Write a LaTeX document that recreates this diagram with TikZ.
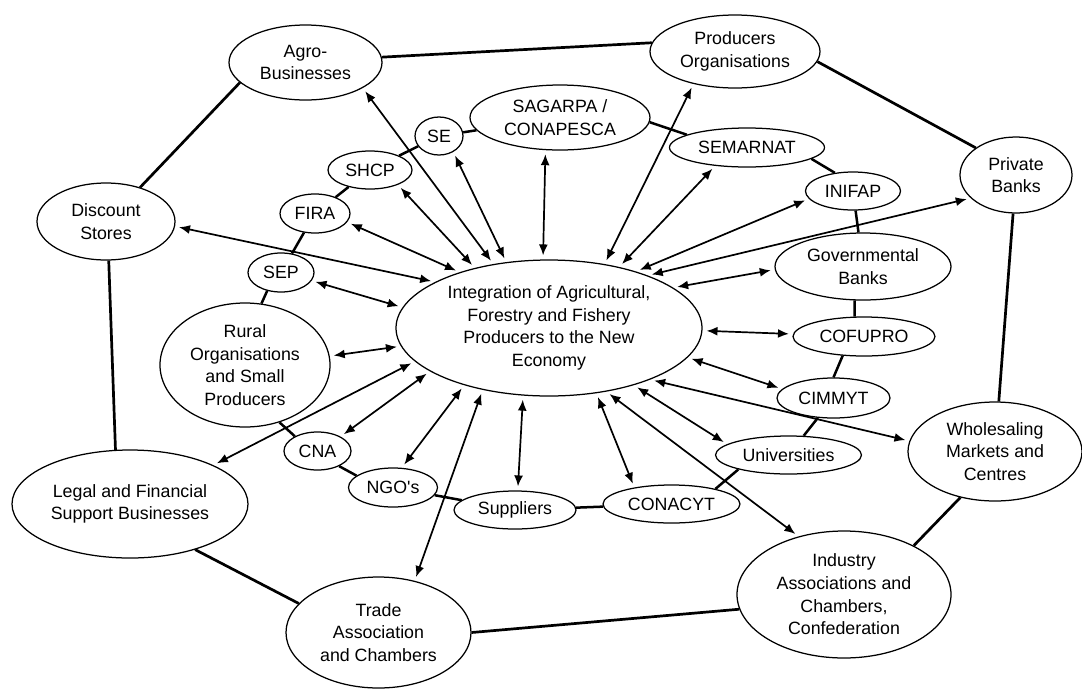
\documentclass[tikz,border=0pt]{standalone}
\usepackage{fontspec}
\setmainfont{Liberation Sans}
\usetikzlibrary{shapes.geometric,arrows.meta}
\begin{document}
\begin{tikzpicture}[x=1pt,y=-1pt,
    org/.style={draw, ellipse, line width=1.25pt, inner sep=0pt, align=center,
      font=\fontsize{17.8}{22.6}\selectfont},
    ringline/.style={line width=2.7pt},
    chainline/.style={line width=2.5pt},
    dblarrow/.style={line width=1.7pt,
      {Latex[length=11pt,width=9pt]}-{Latex[length=11pt,width=9pt]},
      shorten <=4pt, shorten >=4pt}]
    \useasboundingbox (0,0) rectangle (1082,689);
    \node[org, minimum width=306, minimum height=136] (central) at (549,328)
      {Integration of Agricultural,\\Forestry and Fishery\\Producers to the New\\Economy};
    \node[org, minimum width=153, minimum height=75] (agro) at (305.5,62.5) {Agro-\\Businesses};
    \node[org, minimum width=170, minimum height=73] (producers) at (735,51.5) {Producers\\Organisations};
    \node[org, minimum width=112, minimum height=76] (private) at (1016,175) {Private\\Banks};
    \node[org, minimum width=174, minimum height=99] (wholesaling) at (995,451.5) {Wholesaling\\Markets and\\Centres};
    \node[org, minimum width=214, minimum height=127] (industry) at (844,594.5) {Industry\\Associations and\\Chambers,\\Confederation};
    \node[org, minimum width=185, minimum height=111] (trade) at (378.5,632.5) {Trade\\Association\\and Chambers};
    \node[org, minimum width=236, minimum height=108] (legal) at (130,504) {Legal and Financial\\Support Businesses};
    \node[org, minimum width=138, minimum height=77] (discount) at (106,221.5) {Discount\\Stores};
    \node[org, minimum width=180, minimum height=65] (sagarpa) at (560,117.5) {SAGARPA /\\CONAPESCA};
    \node[org, minimum width=48, minimum height=38] (se) at (439,136) {SE};
    \node[org, minimum width=84, minimum height=38] (shcp) at (370,170) {SHCP};
    \node[org, minimum width=70, minimum height=39] (fira) at (315,213.5) {FIRA};
    \node[org, minimum width=66, minimum height=39] (sep) at (281,272.5) {SEP};
    \node[org, minimum width=170, minimum height=124] (rural) at (245,365) {Rural\\Organisations\\and Small\\Producers};
    \node[org, minimum width=67, minimum height=38] (cna) at (317.5,451) {CNA};
    \node[org, minimum width=89, minimum height=39] (ngos) at (393,487.5) {NGO\textquotesingle s};
    \node[org, minimum width=122, minimum height=38] (suppliers) at (515,510) {Suppliers};
    \node[org, minimum width=137, minimum height=38] (conacyt) at (671.5,504) {CONACYT};
    \node[org, minimum width=146, minimum height=38] (universities) at (788.5,455) {Universities};
    \node[org, minimum width=113, minimum height=40] (cimmyt) at (833.5,398) {CIMMYT};
    \node[org, minimum width=142, minimum height=39] (cofupro) at (864,336.5) {COFUPRO};
    \node[org, minimum width=176, minimum height=67] (govbanks) at (863,266.5) {Governmental\\Banks};
    \node[org, minimum width=95, minimum height=38] (inifap) at (853,191) {INIFAP};
    \node[org, minimum width=155, minimum height=39] (semarnat) at (747,147.5) {SEMARNAT};
    % outer ring
    \draw[ringline] (agro.4) -- (producers.174);
    \draw[ringline] (producers.-7) -- (private.146);
    \draw[ringline] (private) -- (wholesaling);
    \draw[ringline] (wholesaling.233) -- (industry.35);
    \draw[ringline] (trade.0) -- (industry.188);
    \draw[ringline] (legal.-35) -- (trade.160);
    \draw[ringline] (discount.-86) -- (legal.105);
    \draw[ringline] (agro.197) -- (discount.45);
    % inner ring
    \draw[chainline] (sagarpa) -- (se);
    \draw[chainline] (se) -- (shcp);
    \draw[chainline] (shcp) -- (fira);
    \draw[chainline] (fira) -- (sep);
    \draw[chainline] (sep.233) -- (rural.75);
    \draw[chainline] (rural.-59) -- (cna.147);
    \draw[chainline] (cna.-35) -- (ngos.162);
    \draw[chainline] (ngos) -- (suppliers);
    \draw[chainline] (suppliers) -- (conacyt);
    \draw[chainline] (conacyt.19) -- (universities.196);
    \draw[chainline] (universities) -- (cimmyt);
    \draw[chainline] (cimmyt.north) -- (cofupro.222);
    \draw[chainline] (cofupro.115) -- (govbanks.256);
    \draw[chainline] (govbanks) -- (inifap);
    \draw[chainline] (inifap.135) -- (semarnat.-10);
    \draw[chainline] (semarnat.168) -- (sagarpa.-3);
    % links to the centre
    \draw[dblarrow] (central.131) -- (agro.-24);
    \draw[dblarrow] (central.123) -- (se.-48);
    \draw[dblarrow] (central.141) -- (shcp.-28);
    \draw[dblarrow] (central.148) -- (fira.-15);
    \draw[dblarrow] (central.158) -- (discount.-4);
    \draw[dblarrow] (central.172) -- (sep.-15);
    \draw[dblarrow] (central.187) -- (rural.6);
    \draw[dblarrow] (central.194) -- (legal.25);
    \draw[dblarrow] (central.200) -- (cna.32);
    \draw[dblarrow] (central.214) -- (ngos.66);
    \draw[dblarrow] (central.223) -- (trade.55);
    \draw[dblarrow] (central.249) -- (suppliers.82);
    \draw[dblarrow] (central.-54) -- (conacyt.156);
    \draw[dblarrow] (central.-48) -- (industry.128);
    \draw[dblarrow] (central.-34) -- (universities.170);
    \draw[dblarrow] (central.-27) -- (wholesaling.173);
    \draw[dblarrow] (central.-12) -- (cimmyt.170);
    \draw[dblarrow] (central.-1) -- (cofupro.178);
    \draw[dblarrow] (central.18) -- (govbanks.182);
    \draw[dblarrow] (central.28) -- (private.207);
    \draw[dblarrow] (central.33) -- (inifap.190);
    \draw[dblarrow] (central.41) -- (semarnat.210);
    \draw[dblarrow] (central.49) -- (producers.218);
    \draw[dblarrow] (central.95) -- (sagarpa.246);
\end{tikzpicture}
\end{document}
